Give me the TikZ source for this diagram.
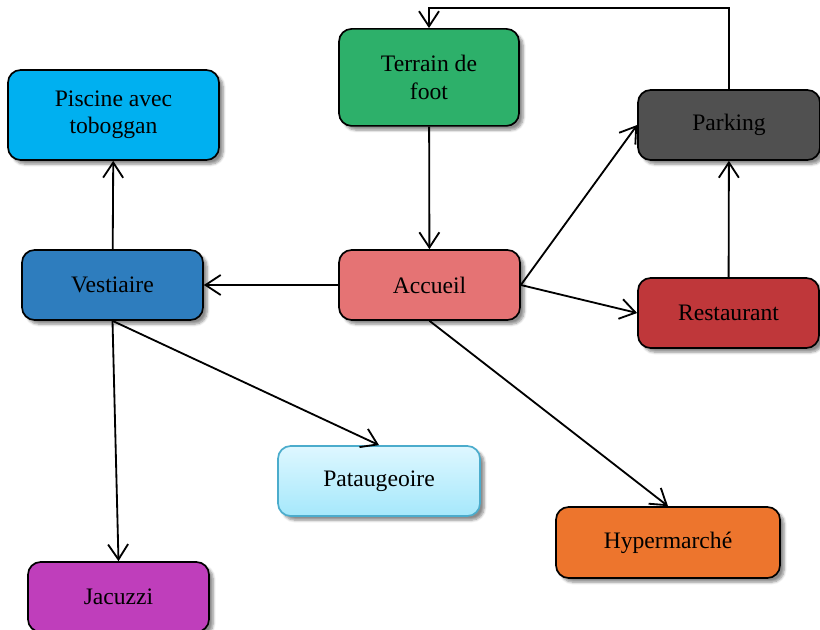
\documentclass[tikz,border=0pt]{standalone}
\usepackage{fontspec}
\setmainfont{Liberation Serif}
\usepackage{xcolor}
\usetikzlibrary{arrows.meta, positioning, calc, shadows.blur}
\definecolor{foot}{RGB}{45, 176, 106}
\definecolor{pool}{RGB}{0, 176, 240}
\definecolor{park}{RGB}{80, 80, 80}
\definecolor{cloak}{RGB}{46, 125, 190}
\definecolor{desk}{RGB}{229, 115, 116}
\definecolor{food}{RGB}{191, 55, 58}
\definecolor{paddle}{RGB}{75, 172, 204}
\definecolor{paddletop}{RGB}{222, 247, 255}
\definecolor{paddlebot}{RGB}{165, 232, 251}
\definecolor{shop}{RGB}{237, 117, 45}
\definecolor{spa}{RGB}{191, 62, 187}
\tikzset{
    box/.style={rectangle, rounded corners=9pt, draw=black, line width=1.2pt, align=center,
        font=\fontsize{16.8}{19.5}\selectfont, minimum width=4.525cm, minimum height=1.75cm, inner sep=2pt,
        blur shadow={shadow xshift=3pt, shadow yshift=-3pt, shadow blur steps=6, shadow opacity=45}},
    arr/.style={-{Straight Barb[length=0.38cm, width=0.5cm]}, line width=1.3pt, black}
}
\begin{document}
\begin{tikzpicture}
    \useasboundingbox (0,0) rectangle (20.5,15.725);
    \node[box, fill=foot, minimum width=4.5cm, minimum height=2.425cm] (terrain) at (10.725,13.79) {Terrain de\\foot};
    \node[box, fill=pool, minimum width=5.275cm, minimum height=2.25cm] (piscine) at (2.8375,12.85) {Piscine avec\\toboggan};
    \node[box, fill=park, minimum width=4.55cm] (parking) at (18.225,12.6) {Parking};
    \node[box, fill=cloak] (vestiaire) at (2.8125,8.6) {Vestiaire};
    \node[box, fill=desk] (accueil) at (10.7375,8.6) {Accueil};
    \node[box, fill=food] (resto) at (18.2125,7.9) {Restaurant};
    \node[box, draw=paddle, top color=paddletop, bottom color=paddlebot, minimum width=5.05cm] (patau) at (9.475,3.7) {Pataugeoire};
    \node[box, fill=shop, minimum width=5.6cm, minimum height=1.775cm] (hyper) at (16.7,2.1625) {Hypermarché};
    \node[box, fill=spa] (jacuzzi) at (2.9625,0.8) {Jacuzzi};
    \coordinate (loop) at (18.225,15.525);
    \draw[arr] (terrain) -- (accueil);
    \draw[arr] (parking.north) -- (loop) -| (terrain.north);
    \draw[arr] (accueil) -- (vestiaire);
    \draw[arr] (vestiaire) -- (piscine);
    \draw[arr] (vestiaire.south) -- (jacuzzi.north);
    \draw[arr] (vestiaire.south) -- (patau.north);
    \draw[arr] (accueil.east) -- (parking.west);
    \draw[arr] (accueil.east) -- (resto.west);
    \draw[arr] (accueil.south) -- (hyper.north);
    \draw[arr] (resto) -- (parking);
\end{tikzpicture}
\end{document}
